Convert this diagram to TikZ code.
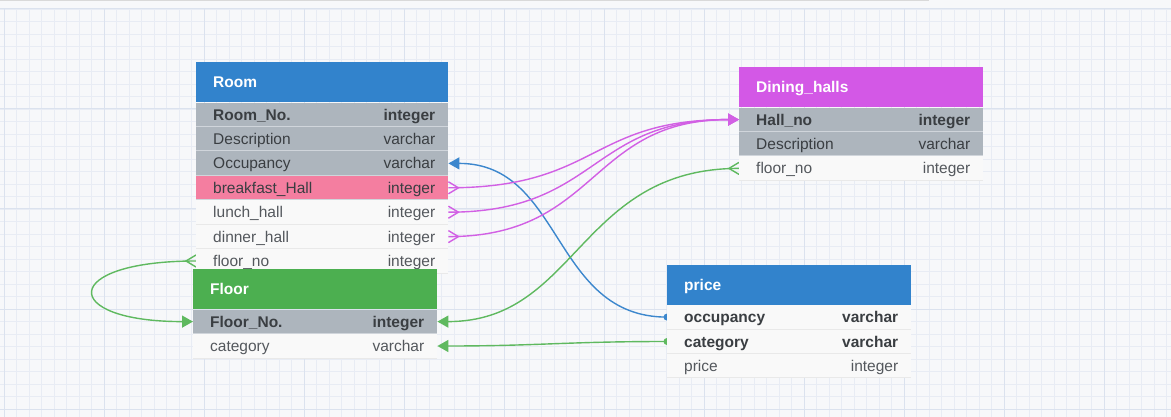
\documentclass[tikz,border=0pt]{standalone}
\usepackage{fontspec}
\setmainfont{Liberation Sans}
\usetikzlibrary{positioning,arrows.meta,backgrounds}

\definecolor{canvas}{RGB}{247,248,250}
\definecolor{minorgrid}{RGB}{232,236,244}
\definecolor{majorgrid}{RGB}{219,226,238}
\definecolor{roomblue}{RGB}{50,131,204}
\definecolor{floorgreen}{RGB}{76,175,80}
\definecolor{hallpink}{RGB}{211,88,230}
\definecolor{keygray}{RGB}{173,181,189}
\definecolor{keysep}{RGB}{208,213,219}
\definecolor{pinkrow}{RGB}{244,126,160}
\definecolor{plainrow}{RGB}{249,249,249}
\definecolor{plainsep}{RGB}{233,233,233}
\definecolor{textdark}{RGB}{58,62,66}
\definecolor{textsoft}{RGB}{84,88,93}
\definecolor{occblue}{RGB}{60,135,205}
\definecolor{hallline}{RGB}{210,96,228}
\definecolor{linkgreen}{RGB}{95,185,95}

% one table line: left text, right text
\newcommand{\tcols}[3]{\hbox to #1{\hskip4pt #2\hfil #3}}

\tikzset{
  cell/.style={inner xsep=13pt, inner ysep=0pt, text height=13pt, text depth=2pt,
    font=\fontsize{15.5}{18}\selectfont},
  tablehead/.style={cell, anchor=north west, minimum height=40pt, text=white, font=\bfseries\fontsize{15.5}{18}\selectfont},
  keyrow/.style={cell, minimum height=24pt, fill=keygray, text=textdark,
    path picture={\draw[keysep, line width=1pt] (path picture bounding box.south west) -- (path picture bounding box.south east);}},
  pinkfield/.style={keyrow, fill=pinkrow},
  plainfield/.style={keyrow, fill=plainrow, text=textsoft,
    path picture={\draw[plainsep, line width=1pt] (path picture bounding box.south west) -- (path picture bounding box.south east);}},
  link/.style={line width=1.4pt},
  onetip/.style={-{Triangle[length=11pt,width=12pt]}},
  toesright/.pic={\draw[link] (0,-6) -- (10,0) -- (0,6);},
  toesleft/.pic={\draw[link] (0,-6) -- (-10,0) -- (0,6);}
}

\begin{document}
\begin{tikzpicture}[x=1pt,y=-1pt]
\useasboundingbox (0,0) rectangle (1171,417);

% CANVAS GRID
\begin{scope}[on background layer]
\fill[canvas] (0,0) rectangle (1171,417);
\foreach \i in {0,...,94}
  \draw[minorgrid, line width=0.8pt] ({4+12.5*\i},9) -- ({4+12.5*\i},417);
\foreach \j in {0,...,32}
  \draw[minorgrid, line width=0.8pt] (0,{9+12.5*\j}) -- (1171,{9+12.5*\j});
\foreach \i in {0,...,11}
  \draw[majorgrid, line width=1pt] ({4+100*\i},9) -- ({4+100*\i},417);
\foreach \j in {0,...,4}
  \draw[majorgrid, line width=1pt] (0,{9+100*\j}) -- (1171,{9+100*\j});
\draw[black!15, line width=1.5pt] (0,0.75) -- (929,0.75);
\end{scope}

% ROOM

\node[tablehead, fill=roomblue] (room) at (196,62) {\tcols{226pt}{Room}{}};
\node[keyrow, below=0pt of room] (room-no) {\tcols{226pt}{\bfseries Room\_No.}{\bfseries integer}};
\node[keyrow, below=0pt of room-no] (room-desc) {\tcols{226pt}{Description}{varchar}};
\node[keyrow, below=0pt of room-desc] (room-occ) {\tcols{226pt}{Occupancy}{varchar}};
\node[pinkfield, below=0pt of room-occ] (room-bf) {\tcols{226pt}{breakfast\_Hall}{integer}};
\node[plainfield, below=0pt of room-bf] (room-lunch) {\tcols{226pt}{lunch\_hall}{integer}};
\node[plainfield, below=0pt of room-lunch] (room-dinner) {\tcols{226pt}{dinner\_hall}{integer}};
\node[plainfield, below=0pt of room-dinner] (room-floor) {\tcols{226pt}{floor\_no}{integer}};

% FLOOR

\node[tablehead, fill=floorgreen] (floor) at (193,269) {\tcols{218pt}{Floor}{}};
\node[keyrow, below=0pt of floor] (floor-no) {\tcols{218pt}{\bfseries Floor\_No.}{\bfseries integer}};
\node[plainfield, below=0pt of floor-no] (floor-cat) {\tcols{218pt}{category}{varchar}};

% DINING HALLS

\node[tablehead, fill=hallpink] (din) at (739,67) {\tcols{218pt}{Dining\_halls}{}};
\node[keyrow, below=0pt of din] (din-no) {\tcols{218pt}{\bfseries Hall\_no}{\bfseries integer}};
\node[keyrow, below=0pt of din-no] (din-desc) {\tcols{218pt}{Description}{varchar}};
\node[plainfield, below=0pt of din-desc] (din-floor) {\tcols{218pt}{floor\_no}{integer}};

% PRICE

\node[tablehead, fill=roomblue] (price) at (667,264.5) {\tcols{218pt}{price}{}};
\node[plainfield, text=textdark, below=0pt of price] (price-occ) {\tcols{218pt}{\bfseries occupancy}{\bfseries varchar}};
\node[plainfield, text=textdark, below=0pt of price-occ] (price-cat) {\tcols{218pt}{\bfseries category}{\bfseries varchar}};
\node[plainfield, below=0pt of price-cat] (price-price) {\tcols{218pt}{price}{integer}};

% LINKS

\begin{scope}[on background layer]
\draw[link, occblue, onetip] (price-occ.west) .. controls +(-115,0) and +(115,0) .. (room-occ.east);
\fill[occblue] (price-occ.west) circle (3.5pt);

\draw[link, hallline, onetip] (room-bf.east) .. controls +(150,0) and +(-150,0) .. (din-no.west);
\draw[link, hallline, onetip] (room-lunch.east) .. controls +(150,0) and +(-150,0) .. (din-no.west);
\draw[link, hallline, onetip] (room-dinner.east) .. controls +(150,0) and +(-150,0) .. (din-no.west);
\path[hallline] (room-bf.east) pic {toesright} (room-lunch.east) pic {toesright} (room-dinner.east) pic {toesright};

\draw[link, linkgreen, onetip] (din-floor.west) .. controls +(-160,0) and +(140,0) .. (floor-no.east);
\path[linkgreen] (din-floor.west) pic {toesleft};

\draw[link, linkgreen, onetip] (price-cat.west) .. controls +(-100,0) and +(100,0) .. (floor-cat.east);
\fill[linkgreen] (price-cat.west) circle (3.5pt);

\draw[link, linkgreen, onetip] (room-floor.west) .. controls +(-137,0) and +(-134,0) .. (floor-no.west);
\path[linkgreen] (room-floor.west) pic {toesleft};
\end{scope}

\end{tikzpicture}
\end{document}
